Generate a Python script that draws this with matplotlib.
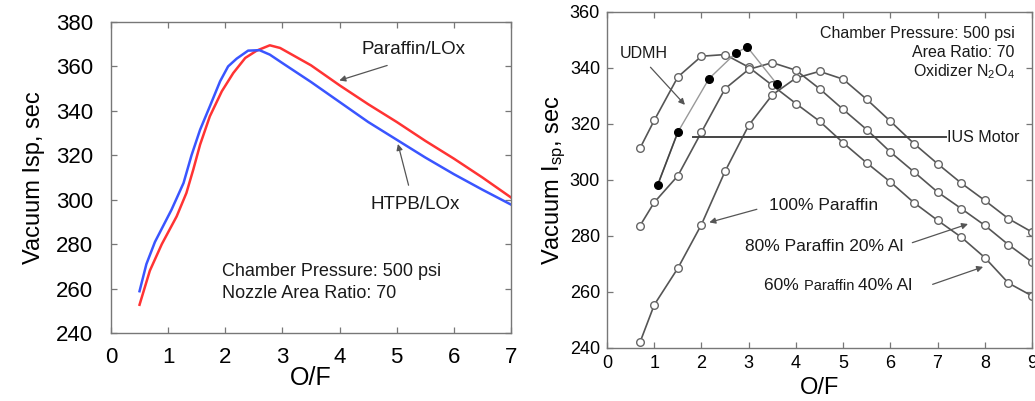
import numpy as np
import matplotlib
matplotlib.use("Agg")
import matplotlib.pyplot as plt

plt.rcParams['font.family'] = ['Liberation Sans', 'DejaVu Sans']
plt.rcParams['mathtext.fontset'] = 'custom'
plt.rcParams['mathtext.rm'] = 'Liberation Sans'
plt.rcParams['mathtext.it'] = 'Liberation Sans:italic'

# left panel: Isp vs O/F, LOx oxidizer
htpb_of = [0.5, 0.62, 0.77, 0.92, 1.06, 1.27, 1.41, 1.56, 1.73, 1.91, 2.05, 2.2, 2.4,
           2.6, 2.78, 3.0, 3.5, 4.0, 4.5, 5.0, 5.5, 6.0, 6.5, 7.0]
htpb_isp = [258.8, 271, 281, 288.5, 295.5, 307.5, 320, 331.5, 342, 353.3, 360, 363.5, 367.1,
            367.3, 365.3, 361.5, 353, 344, 335, 327, 319, 311.5, 304.5, 297.8]
paraffin_of = [0.5, 0.68, 0.89, 1.15, 1.32, 1.44, 1.56, 1.73, 1.94, 2.14, 2.35, 2.55,
               2.78, 2.96, 3.5, 4.0, 4.5, 5.0, 5.5, 6.0, 6.5, 7.0]
paraffin_isp = [252.7, 268, 280, 292.5, 303, 313.5, 324.8, 337.5, 348.8, 357, 363.8, 367.1,
                369.5, 368.3, 360.5, 351.5, 343, 335, 326.5, 318.5, 310, 301]

# right panel: Isp vs O/F, N2O4 oxidizer
of_grid = [0.7, 1.0, 1.5, 2.0, 2.5, 3.0, 3.5, 4.0, 4.5, 5.0, 5.5, 6.0, 6.5, 7.0, 7.5, 8.0, 8.5, 9.0]
paraffin100 = [311.4, 321.3, 336.8, 344.2, 344.8, 340.3, 333.8, 327.3, 321.0, 313.3, 306.1,
               299.3, 291.9, 285.6, 279.6, 272.3, 263.2, 258.6]
paraffin80_al20 = [283.7, 292.0, 301.5, 317.1, 332.6, 339.5, 341.9, 339.2, 332.6, 325.2, 318.0,
                   310.0, 302.9, 295.7, 289.8, 283.8, 276.9, 270.7]
paraffin60_al40 = [242.1, 255.4, 268.5, 284.1, 303.1, 319.5, 330.4, 336.4, 338.8, 336.0, 328.8,
                   321.0, 313.0, 305.8, 298.9, 292.7, 286.2, 281.4]
udmh_of = [1.07, 1.5, 2.16, 2.73, 2.97, 3.6]
udmh_isp = [298.1, 317.1, 336.2, 345.4, 347.5, 334.2]
ius_isp = 315.2

spine_col = '#777777'

fig = plt.figure(figsize=(10.35, 4.01), dpi=100)

def style_axes(ax, size, xpad, ypad):
    for s in ax.spines.values():
        s.set_color(spine_col)
        s.set_linewidth(1.0)
    ax.tick_params(direction='in', top=True, right=True, length=4, width=0.9,
                   color=spine_col, labelsize=size)
    ax.tick_params(axis='x', pad=xpad)
    ax.tick_params(axis='y', pad=ypad)

# ---- left
ax1 = fig.add_axes([0.1072, 0.1696, 0.3865, 0.7756])
ax1.plot(paraffin_of, paraffin_isp, color='#ff3333', lw=1.8)
ax1.plot(htpb_of, htpb_isp, color='#3a55ff', lw=1.8)
ax1.set_xlim(0, 7)
ax1.set_ylim(240, 380)
ax1.set_xticks(range(0, 8))
ax1.set_yticks(range(240, 381, 20))
style_axes(ax1, 16, 10, 13)
ax1.set_xlabel('O/F', fontsize=18, labelpad=-1)
ax1.set_ylabel('Vacuum Isp, sec', fontsize=17, labelpad=8)

arr = dict(arrowstyle='-|>', color='#555555', lw=0.9, mutation_scale=9)
tc = '#1a1a1a'
ax1.annotate('', xy=(3.95, 353.3), xytext=(4.88, 360.8), arrowprops=arr)
ax1.text(4.39, 367.8, 'Paraffin/LOx', fontsize=13.5, va='center', color=tc)
ax1.annotate('', xy=(5.01, 326.3), xytext=(5.22, 305.3), arrowprops=arr)
ax1.text(4.55, 297.8, 'HTPB/LOx', fontsize=13.5, va='center', color=tc)
ax1.text(1.94, 267.8, 'Chamber Pressure: 500 psi', fontsize=13, va='center', color=tc)
ax1.text(1.94, 257.7, 'Nozzle Area Ratio: 70', fontsize=13, va='center', color=tc)

# ---- right
ax2 = fig.add_axes([0.5865, 0.1322, 0.4106, 0.8379])
line_col = '#555555'
mk = dict(marker='o', markersize=5.5, markerfacecolor='white', markeredgecolor='#666666',
          markeredgewidth=1.0)
ax2.plot(of_grid, paraffin100, color=line_col, lw=1.2, **mk)
ax2.plot(of_grid, paraffin80_al20, color=line_col, lw=1.2, **mk)
ax2.plot(of_grid, paraffin60_al40, color=line_col, lw=1.2, **mk)
ax2.plot(udmh_of, udmh_isp, color='#999999', lw=1.0, zorder=2)
ax2.plot(udmh_of[:2], udmh_isp[:2], color='#444444', lw=1.2, zorder=2)
ax2.plot(udmh_of, udmh_isp, 'o', color='black', markersize=5.5, zorder=3)
ax2.plot([1.83, 7.18], [ius_isp, ius_isp], color='#444444', lw=1.4)
ax2.set_xlim(0, 9)
ax2.set_ylim(240, 360)
ax2.set_xticks(range(0, 10))
ax2.set_yticks(range(240, 361, 20))
style_axes(ax2, 13, 5, 5)
ax2.set_xlabel('O/F', fontsize=17, labelpad=4)
ax2.set_ylabel(r'Vacuum I$_{\mathrm{sp}}$, sec', fontsize=17, labelpad=1)

ax2.text(8.63, 352.3, 'Chamber Pressure: 500 psi', fontsize=11.5, ha='right', va='center', color=tc)
ax2.text(8.63, 345.4, 'Area Ratio: 70', fontsize=11.5, ha='right', va='center', color=tc)
ax2.text(8.63, 338.6, r'Oxidizer N$_2$O$_4$', fontsize=11.5, ha='right', va='center', color=tc)
ax2.text(7.2, 315.2, 'IUS Motor', fontsize=11.5, va='center', color=tc)
ax2.text(0.28, 345.1, 'UDMH', fontsize=11.5, va='center', color=tc)
ax2.annotate('', xy=(1.69, 326.1), xytext=(0.88, 341.0), arrowprops=arr)
ax2.text(3.42, 291.0, '100% Paraffin', fontsize=12.5, va='center', color=tc)
ax2.annotate('', xy=(2.11, 284.6), xytext=(3.23, 289.8), arrowprops=arr)
ax2.text(2.92, 276.1, '80% Paraffin 20% Al', fontsize=12.5, va='center', color=tc)
ax2.annotate('', xy=(7.70, 284.6), xytext=(6.41, 277.3), arrowprops=arr)
t1 = ax2.text(3.33, 262.4, '60% ', fontsize=12.5, va='center', color=tc)
t2 = ax2.annotate('Paraffin ', xy=(1, 0), xycoords=t1, va='bottom', fontsize=10.5, color=tc)
ax2.annotate('40% Al', xy=(1, 0), xycoords=t2, va='bottom', fontsize=12.5, color=tc)
ax2.annotate('', xy=(8.02, 269.3), xytext=(6.84, 262.4), arrowprops=arr)

fig.savefig('out.png', dpi=100)
